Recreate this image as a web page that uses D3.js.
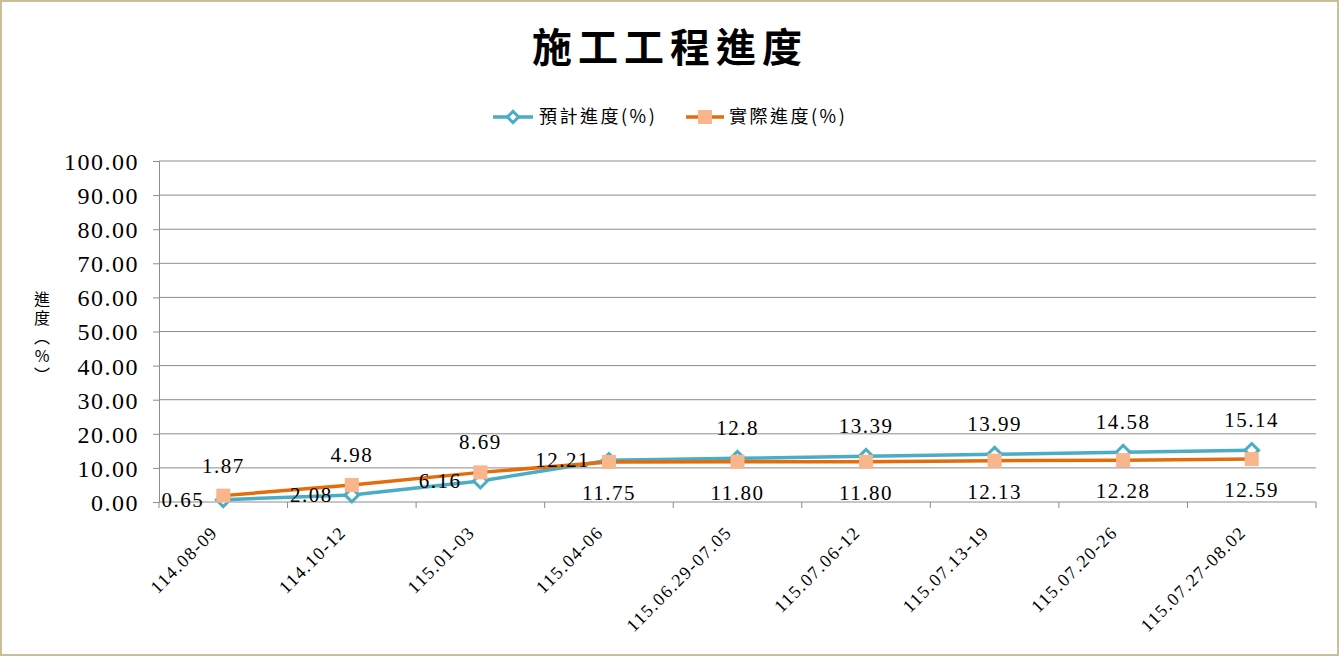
<!DOCTYPE html>
<html>
<head>
<meta charset="utf-8">
<script src="https://cdn.jsdelivr.net/npm/d3@7"></script>
<style>
  body { margin: 0; background: #fff; }
  svg text { font-family: "Liberation Serif", "DejaVu Serif", serif; }
  .cjk { font-family: "Noto Sans CJK TC", "Noto Sans CJK SC", sans-serif; }
</style>
</head>
<body>
<div id="chart"></div>
<script>
// Data
const categories = ['114.08-09', '114.10-12', '115.01-03', '115.04-06', '115.06.29-07.05',
  '115.07.06-12', '115.07.13-19', '115.07.20-26', '115.07.27-08.02'];
const plannedValues = [0.65, 2.08, 6.16, 12.21, 12.8, 13.39, 13.99, 14.58, 15.14];
const plannedLabels = ['0.65', '2.08', '6.16', '12.21', '12.8', '13.39', '13.99', '14.58', '15.14'];
const actualValues = [1.87, 4.98, 8.69, 11.75, 11.80, 11.80, 12.13, 12.28, 12.59];
const actualLabels = ['1.87', '4.98', '8.69', '11.75', '11.80', '11.80', '12.13', '12.28', '12.59'];
const yTicks = [0, 10, 20, 30, 40, 50, 60, 70, 80, 90, 100];
// label placement per point
const plannedPlace = ['left', 'left', 'left', 'left', 'above', 'above', 'above', 'above', 'above'];
const actualPlace = ['above', 'above', 'above', 'below', 'below', 'below', 'below', 'below', 'below'];

const width = 1340, height = 657;
const margin = { top: 161, right: 24, bottom: 155, left: 159 };
const innerWidth = width - margin.left - margin.right;
const innerHeight = height - margin.top - margin.bottom;

const blue = '#4bacc6';
const orange = '#e46c0a';
const orangeMarker = '#f9b68d';
const gridColor = '#8c8c8c';

const svg = d3.select('#chart')
  .append('svg')
  .attr('width', width)
  .attr('height', height);

// Outer border
svg.append('rect')
  .attr('x', 1).attr('y', 1)
  .attr('width', width - 3).attr('height', height - 3)
  .attr('fill', '#fff')
  .attr('stroke', '#c9c09a')
  .attr('stroke-width', 2);

// Title
svg.append('text')
  .attr('class', 'cjk')
  .attr('x', 670).attr('y', 62)
  .attr('text-anchor', 'middle')
  .style('font-size', '40px')
  .style('font-weight', 'bold')
  .style('letter-spacing', '6px')
  .text('施工工程進度');

const g = svg.append('g')
  .attr('transform', `translate(${margin.left},${margin.top})`);

const x = d3.scaleBand()
  .domain(categories)
  .range([0, innerWidth]);

const y = d3.scaleLinear()
  .domain([0, 100])
  .range([innerHeight, 0]);

const cx = d => x(d) + x.bandwidth() / 2;

// Gridlines
g.append('g')
  .selectAll('line')
  .data(yTicks.filter(t => t > 0))
  .enter().append('line')
  .attr('x1', 0).attr('x2', innerWidth)
  .attr('y1', d => y(d)).attr('y2', d => y(d))
  .attr('stroke', gridColor)
  .attr('stroke-width', 1);

// Y axis
const yAxis = g.append('g')
  .call(d3.axisLeft(y).tickValues(yTicks).tickFormat(d => d.toFixed(2)).tickSize(6).tickPadding(14));
yAxis.select('.domain').attr('stroke', gridColor);
yAxis.selectAll('.tick line').attr('stroke', gridColor);
yAxis.selectAll('.tick text')
  .style('font-size', '24px')
  .style('letter-spacing', '1.5px')
  .style('font-family', '"Liberation Serif", serif')
  .attr('fill', '#000')
  .attr('dy', '0.35em');

// X axis line with tick marks at category boundaries
g.append('line')
  .attr('x1', 0).attr('x2', innerWidth)
  .attr('y1', innerHeight).attr('y2', innerHeight)
  .attr('stroke', gridColor);
g.append('g')
  .selectAll('line')
  .data(d3.range(categories.length + 1))
  .enter().append('line')
  .attr('x1', i => i * x.step())
  .attr('x2', i => i * x.step())
  .attr('y1', innerHeight).attr('y2', innerHeight + 6)
  .attr('stroke', gridColor);

// X labels rotated
g.append('g')
  .selectAll('text')
  .data(categories)
  .enter().append('text')
  .attr('transform', d => `translate(${cx(d) - 9},${innerHeight + 27}) rotate(-45)`)
  .attr('text-anchor', 'end')
  .attr('dy', '0.35em')
  .style('font-size', '18px')
  .style('letter-spacing', '1.5px')
  .text(d => d);

// Y axis title stacked vertically
const yTitle = svg.append('text')
  .attr('class', 'cjk')
  .attr('x', 42).attr('y', 305)
  .attr('text-anchor', 'middle')
  .style('font-size', '16px');
['進', '度', '︵', '%', '︶'].forEach((c, i) => {
  yTitle.append('tspan').attr('x', 42).attr('dy', i === 0 ? 0 : 19).text(c);
});

// Lines
const line = d3.line()
  .x((d, i) => cx(categories[i]))
  .y(d => y(d));

g.append('path')
  .datum(plannedValues)
  .attr('fill', 'none')
  .attr('stroke', blue)
  .attr('stroke-width', 3.5)
  .attr('d', line);

g.append('path')
  .datum(actualValues)
  .attr('fill', 'none')
  .attr('stroke', orange)
  .attr('stroke-width', 3.5)
  .attr('d', line);

// Markers
const diamond = d3.symbol().type(d3.symbolDiamond2).size(120);
g.selectAll('.pmark')
  .data(plannedValues)
  .enter().append('path')
  .attr('class', 'pmark')
  .attr('transform', (d, i) => `translate(${cx(categories[i])},${y(d)})`)
  .attr('d', diamond)
  .attr('fill', '#fff')
  .attr('stroke', blue)
  .attr('stroke-width', 3);

g.selectAll('.amark')
  .data(actualValues)
  .enter().append('rect')
  .attr('class', 'amark')
  .attr('x', (d, i) => cx(categories[i]) - 7)
  .attr('y', d => y(d) - 7)
  .attr('width', 14).attr('height', 14)
  .attr('fill', orangeMarker);

// Data labels
function placeLabel(sel, values, labels, places) {
  sel.data(values)
    .enter().append('text')
    .attr('x', (d, i) => {
      const px = cx(categories[i]);
      return places[i] === 'left' ? px - 19 : px;
    })
    .attr('y', (d, i) => {
      const py = y(d);
      if (places[i] === 'above') return py - 23;
      if (places[i] === 'below') return py + 38;
      return py + 7;
    })
    .attr('text-anchor', (d, i) => places[i] === 'left' ? 'end' : 'middle')
    .style('font-size', '21px')
    .style('letter-spacing', '1.5px')
    .attr('fill', '#000')
    .text((d, i) => labels[i]);
}
placeLabel(g.selectAll('.plabel'), plannedValues, plannedLabels, plannedPlace);
placeLabel(g.selectAll('.alabel'), actualValues, actualLabels, actualPlace);

// Legend
const legend = svg.append('g').attr('transform', 'translate(493,117)');
legend.append('line').attr('x1', 0).attr('x2', 40).attr('y1', 0).attr('y2', 0)
  .attr('stroke', blue).attr('stroke-width', 3.5);
legend.append('path').attr('transform', 'translate(20,0)')
  .attr('d', d3.symbol().type(d3.symbolDiamond2).size(80))
  .attr('fill', '#fff').attr('stroke', blue).attr('stroke-width', 3);
legend.append('text').attr('class', 'cjk').attr('x', 46).attr('y', 0).attr('dy', '0.35em')
  .style('font-size', '18px').style('letter-spacing', '2.5px').text('預計進度(%)');

legend.append('line').attr('x1', 193).attr('x2', 231).attr('y1', 0).attr('y2', 0)
  .attr('stroke', orange).attr('stroke-width', 3.5);
legend.append('rect').attr('x', 205).attr('y', -7).attr('width', 14).attr('height', 14)
  .attr('fill', orangeMarker);
legend.append('text').attr('class', 'cjk').attr('x', 236).attr('y', 0).attr('dy', '0.35em')
  .style('font-size', '18px').style('letter-spacing', '2.5px').text('實際進度(%)');
</script>
</body>
</html>
